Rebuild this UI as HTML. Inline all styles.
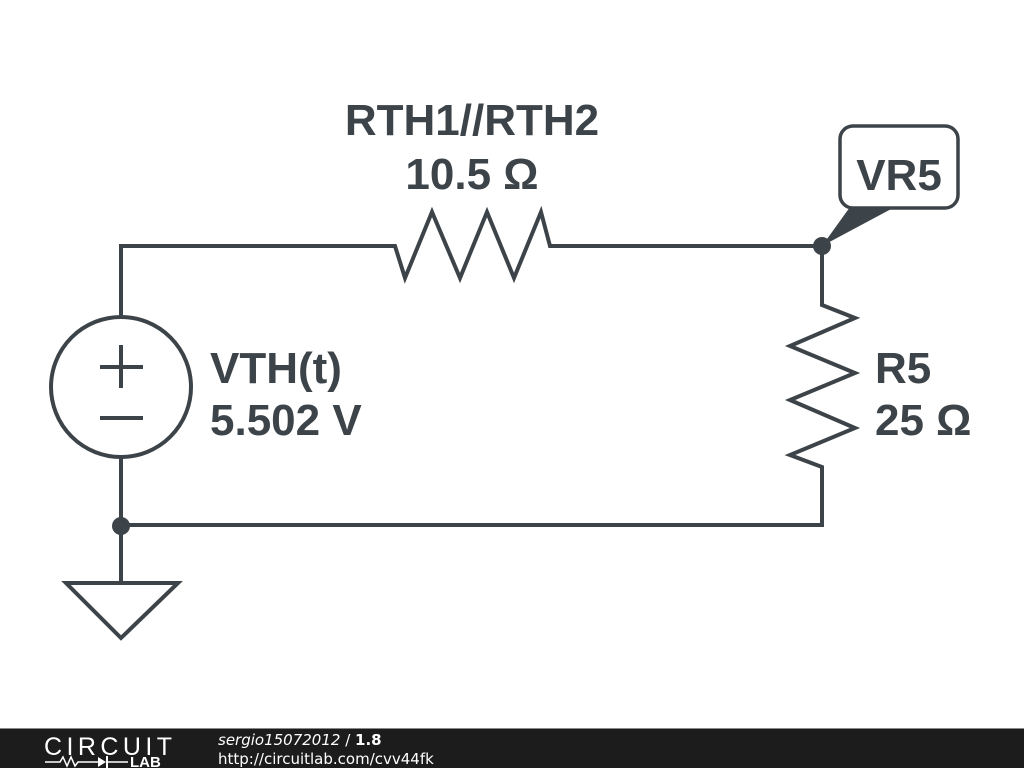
<!DOCTYPE html>
<html><head><style>body{margin:0;background:#fff;}svg{display:block}</style></head><body>
<svg width="1024" height="768" viewBox="0 0 1024 768" xmlns="http://www.w3.org/2000/svg">
<rect width="1024" height="768" fill="#fff"/>
<g fill="none" stroke="#3d4449" stroke-width="4" stroke-linejoin="miter">
<polyline points="121,317 121,246 395,246 405,278 432,212 460,278 487,212 514,278 541,212 550,246 822,246 822,305 855,318 790,346 855,373 790,400 855,428 790,455 822,467 822,525 121,525"/>
<line x1="121" y1="457" x2="121" y2="583"/>
<circle cx="121" cy="387" r="70"/>
<line x1="100" y1="367" x2="143" y2="367"/><line x1="121" y1="345" x2="121" y2="388"/>
<line x1="100" y1="418" x2="143" y2="418"/>
<polygon points="66,583 178,583 121,638"/>
<rect x="840" y="126" width="118" height="82" rx="13" stroke-width="3.5"/>
</g>
<polygon points="850,207 895,207 822,246" fill="#3d4449"/>
<circle cx="822" cy="246" r="9" fill="#3d4449"/>
<circle cx="121" cy="526" r="9" fill="#3d4449"/>
<g font-family="Liberation Sans, sans-serif" font-weight="bold" font-size="44" fill="#3d4449">
<text x="472" y="135" text-anchor="middle">RTH1//RTH2</text>
<text x="472" y="189" text-anchor="middle">10.5 Ω</text>
<text x="210" y="383">VTH(t)</text>
<text x="210" y="435">5.502 V</text>
<text x="875" y="383">R5</text>
<text x="875" y="435">25 Ω</text>
<text x="899" y="190" text-anchor="middle">VR5</text>
</g>
<rect x="0" y="729" width="1024" height="39" fill="#1c1c1c"/>
<rect x="0" y="728" width="1024" height="1" fill="#888"/>
<text x="44" y="755" font-family="Liberation Sans, sans-serif" font-size="25" fill="#fff" textLength="128">CIRCUIT</text>
<text x="130" y="767" font-family="Liberation Sans, sans-serif" font-weight="bold" font-size="15" fill="#fff">LAB</text>
<polyline points="45,762 60,762 63,757 67,766 71,757 75,766 78,762 98,762" fill="none" stroke="#fff" stroke-width="1.5"/>
<polygon points="98,757 98,767 106,762" fill="#fff"/><line x1="107" y1="756" x2="107" y2="768" stroke="#fff" stroke-width="2"/><line x1="107" y1="762" x2="128" y2="762" stroke="#fff" stroke-width="1.5"/>
<text x="218" y="745" font-family="DejaVu Sans, sans-serif" font-size="15" fill="#fff"><tspan font-style="italic">sergio15072012</tspan> / <tspan font-weight="bold">1.8</tspan></text>
<text x="218" y="764" font-family="DejaVu Sans, sans-serif" font-size="15" fill="#fff">http://circuitlab.com/cvv44fk</text>
</svg>
</body></html>
